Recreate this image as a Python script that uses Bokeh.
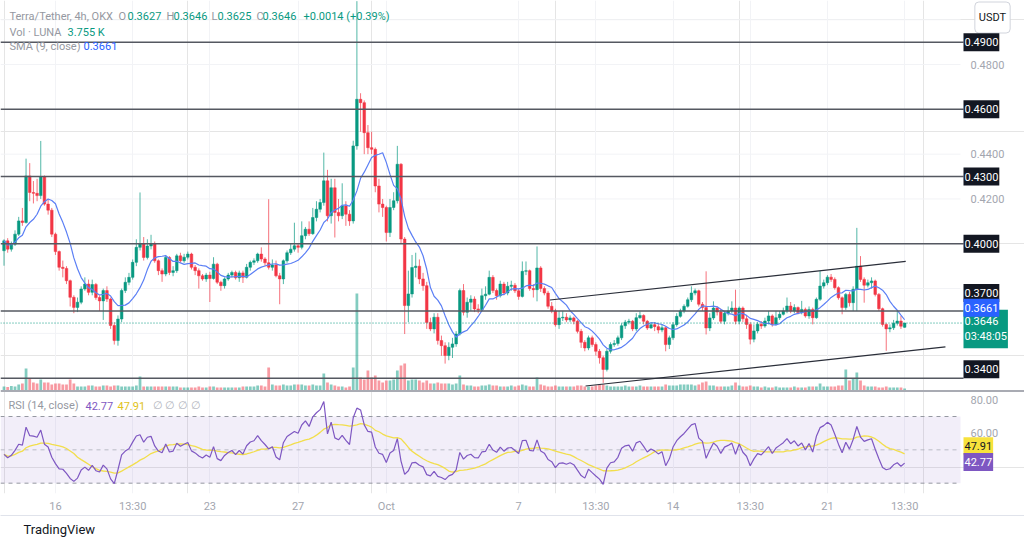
import numpy as np
import pandas as pd
from bokeh.plotting import figure
from bokeh.models import (Range1d, LinearAxis, FixedTicker, Span, Label, BoxAnnotation,
                          Grid, ColumnDataSource, Title)
from bokeh.embed import file_html
from bokeh.resources import INLINE

# ---------------- data (LUNA/USDT 4h) ----------------
opens = [
    0.3969, 0.4013, 0.3976, 0.3998, 0.4043, 0.4102, 0.4095, 0.4303, 0.4229, 0.4225,
    0.4215, 0.4300, 0.4177, 0.4150, 0.4043, 0.3965, 0.3895, 0.3890, 0.3835, 0.3761,
    0.3716, 0.3739, 0.3798, 0.3820, 0.3783, 0.3818, 0.3760, 0.3745, 0.3791, 0.3753,
    0.3635, 0.3568, 0.3664, 0.3791, 0.3828, 0.3850, 0.3917, 0.3984, 0.3999, 0.3939,
    0.3990, 0.4000, 0.3924, 0.3880, 0.3865, 0.3939, 0.3872, 0.3880, 0.3946, 0.3924,
    0.3940, 0.3954, 0.3895, 0.3880, 0.3857, 0.3843, 0.3860, 0.3845, 0.3909, 0.3828,
    0.3813, 0.3843, 0.3860, 0.3872, 0.3848, 0.3870, 0.3850, 0.3895, 0.3917, 0.3924,
    0.3954, 0.3932, 0.3915, 0.3895, 0.3905, 0.3857, 0.3843, 0.3924, 0.3960, 0.3976,
    0.3991, 0.3984, 0.4036, 0.4065, 0.4045, 0.4117, 0.4154, 0.4184, 0.4281, 0.4125,
    0.4250, 0.4140, 0.4125, 0.4169, 0.4132, 0.4102, 0.4437, 0.4645, 0.4630, 0.4496,
    0.4429, 0.4422, 0.4258, 0.4177, 0.4162, 0.4050, 0.4162, 0.4192, 0.4355, 0.4021,
    0.3724, 0.3776, 0.3894, 0.3900, 0.3843, 0.3813, 0.3649, 0.3620, 0.3672, 0.3568,
    0.3545, 0.3501, 0.3538, 0.3553, 0.3597, 0.3791, 0.3694, 0.3739, 0.3753, 0.3709,
    0.3705, 0.3768, 0.3775, 0.3850, 0.3791, 0.3768, 0.3820, 0.3780, 0.3810, 0.3815,
    0.3790, 0.3765, 0.3877, 0.3880, 0.3800, 0.3795, 0.3892, 0.3800, 0.3780, 0.3721,
    0.3700, 0.3639, 0.3669, 0.3672, 0.3660, 0.3669, 0.3654, 0.3609, 0.3560, 0.3535,
    0.3580, 0.3550, 0.3520, 0.3491, 0.3439, 0.3520, 0.3550, 0.3555, 0.3580, 0.3634,
    0.3650, 0.3654, 0.3620, 0.3670, 0.3680, 0.3654, 0.3624, 0.3639, 0.3630, 0.3615,
    0.3625, 0.3550, 0.3580, 0.3639, 0.3676, 0.3700, 0.3721, 0.3750, 0.3780, 0.3790,
    0.3730, 0.3715, 0.3624, 0.3669, 0.3713, 0.3695, 0.3654, 0.3690, 0.3700, 0.3713,
    0.3654, 0.3713, 0.3665, 0.3640, 0.3574, 0.3611, 0.3641, 0.3633, 0.3655, 0.3678,
    0.3641, 0.3670, 0.3685, 0.3700, 0.3722, 0.3700, 0.3715, 0.3693, 0.3707, 0.3678,
    0.3707, 0.3670, 0.3752, 0.3811, 0.3826, 0.3851, 0.3841, 0.3804, 0.3759, 0.3715,
    0.3774, 0.3737, 0.3797, 0.3900, 0.3841, 0.3815, 0.3826, 0.3834, 0.3774, 0.3710,
    0.3640, 0.3620, 0.3625, 0.3645, 0.3655, 0.3627,
]
highs = [
    0.4020, 0.4025, 0.4010, 0.4060, 0.4120, 0.4160, 0.4380, 0.4360, 0.4280, 0.4290,
    0.4459, 0.4305, 0.4200, 0.4160, 0.4050, 0.3970, 0.3925, 0.3900, 0.3840, 0.3770,
    0.3760, 0.3810, 0.3850, 0.3840, 0.3840, 0.3825, 0.3770, 0.3800, 0.3810, 0.3760,
    0.3650, 0.3680, 0.3800, 0.3850, 0.3870, 0.3930, 0.4020, 0.4229, 0.4030, 0.4020,
    0.4040, 0.4010, 0.3930, 0.3890, 0.3950, 0.3945, 0.3900, 0.3955, 0.3960, 0.3955,
    0.3965, 0.3960, 0.3905, 0.3890, 0.3865, 0.3870, 0.3875, 0.3940, 0.3915, 0.3835,
    0.3850, 0.3870, 0.3880, 0.3880, 0.3880, 0.3880, 0.3910, 0.3925, 0.3935, 0.3960,
    0.3984, 0.3940, 0.4199, 0.3930, 0.3925, 0.3870, 0.3930, 0.3970, 0.4000, 0.4094,
    0.4000, 0.4100, 0.4075, 0.4100, 0.4160, 0.4190, 0.4200, 0.4407, 0.4330, 0.4290,
    0.4290, 0.4200, 0.4270, 0.4190, 0.4150, 0.4460, 0.5083, 0.4672, 0.4640, 0.4530,
    0.4500, 0.4430, 0.4290, 0.4200, 0.4170, 0.4200, 0.4230, 0.4437, 0.4360, 0.4030,
    0.3880, 0.3950, 0.3960, 0.3930, 0.3870, 0.3830, 0.3670, 0.3690, 0.3690, 0.3590,
    0.3560, 0.3560, 0.3580, 0.3610, 0.3800, 0.3820, 0.3760, 0.3770, 0.3765, 0.3730,
    0.3800, 0.3810, 0.3880, 0.3860, 0.3800, 0.3835, 0.3830, 0.3830, 0.3835, 0.3825,
    0.3800, 0.3921, 0.3921, 0.3885, 0.3820, 0.3988, 0.3900, 0.3810, 0.3790, 0.3740,
    0.3710, 0.3700, 0.3700, 0.3690, 0.3680, 0.3675, 0.3660, 0.3620, 0.3570, 0.3590,
    0.3590, 0.3560, 0.3530, 0.3500, 0.3530, 0.3560, 0.3570, 0.3590, 0.3645, 0.3660,
    0.3665, 0.3660, 0.3690, 0.3698, 0.3685, 0.3660, 0.3650, 0.3650, 0.3645, 0.3640,
    0.3630, 0.3590, 0.3650, 0.3690, 0.3710, 0.3730, 0.3760, 0.3810, 0.3800, 0.3795,
    0.3740, 0.3877, 0.3690, 0.3743, 0.3720, 0.3710, 0.3700, 0.3720, 0.3743, 0.3795,
    0.3720, 0.3720, 0.3680, 0.3650, 0.3640, 0.3650, 0.3655, 0.3670, 0.3700, 0.3685,
    0.3700, 0.3700, 0.3715, 0.3760, 0.3740, 0.3730, 0.3720, 0.3745, 0.3715, 0.3720,
    0.3715, 0.3760, 0.3878, 0.3840, 0.3860, 0.3865, 0.3850, 0.3810, 0.3765, 0.3780,
    0.3785, 0.3810, 0.4071, 0.3945, 0.3850, 0.3840, 0.3850, 0.3840, 0.3780, 0.3715,
    0.3645, 0.3640, 0.3660, 0.3700, 0.3678, 0.3646,
]
lows = [
    0.3902, 0.3960, 0.3965, 0.3990, 0.4035, 0.4080, 0.4090, 0.4190, 0.4180, 0.4190,
    0.4200, 0.4170, 0.4130, 0.4030, 0.3950, 0.3880, 0.3850, 0.3820, 0.3720, 0.3690,
    0.3695, 0.3730, 0.3790, 0.3770, 0.3770, 0.3750, 0.3700, 0.3660, 0.3740, 0.3620,
    0.3550, 0.3545, 0.3650, 0.3780, 0.3815, 0.3840, 0.3900, 0.3970, 0.3925, 0.3930,
    0.3975, 0.3915, 0.3860, 0.3830, 0.3855, 0.3860, 0.3855, 0.3870, 0.3915, 0.3915,
    0.3930, 0.3885, 0.3860, 0.3800, 0.3835, 0.3830, 0.3740, 0.3840, 0.3820, 0.3790,
    0.3800, 0.3835, 0.3850, 0.3840, 0.3830, 0.3825, 0.3845, 0.3880, 0.3905, 0.3915,
    0.3920, 0.3900, 0.3885, 0.3880, 0.3850, 0.3730, 0.3820, 0.3915, 0.3950, 0.3965,
    0.3960, 0.3975, 0.4020, 0.4035, 0.4040, 0.4100, 0.4140, 0.4170, 0.4100, 0.4090,
    0.4028, 0.4100, 0.4110, 0.4080, 0.4080, 0.4090, 0.4420, 0.4500, 0.4400, 0.4400,
    0.4400, 0.4230, 0.4140, 0.4120, 0.4010, 0.4030, 0.4150, 0.4180, 0.4000, 0.3597,
    0.3650, 0.3760, 0.3850, 0.3820, 0.3790, 0.3620, 0.3610, 0.3600, 0.3550, 0.3500,
    0.3465, 0.3480, 0.3490, 0.3540, 0.3590, 0.3680, 0.3670, 0.3700, 0.3695, 0.3690,
    0.3700, 0.3750, 0.3770, 0.3780, 0.3750, 0.3760, 0.3770, 0.3770, 0.3790, 0.3780,
    0.3750, 0.3760, 0.3860, 0.3790, 0.3760, 0.3743, 0.3785, 0.3770, 0.3710, 0.3690,
    0.3630, 0.3620, 0.3655, 0.3650, 0.3650, 0.3640, 0.3600, 0.3535, 0.3520, 0.3525,
    0.3540, 0.3500, 0.3465, 0.3379, 0.3430, 0.3510, 0.3540, 0.3545, 0.3570, 0.3620,
    0.3640, 0.3610, 0.3610, 0.3665, 0.3640, 0.3615, 0.3620, 0.3610, 0.3600, 0.3605,
    0.3520, 0.3530, 0.3570, 0.3630, 0.3670, 0.3690, 0.3715, 0.3740, 0.3770, 0.3720,
    0.3700, 0.3595, 0.3610, 0.3660, 0.3680, 0.3645, 0.3640, 0.3680, 0.3690, 0.3640,
    0.3640, 0.3650, 0.3620, 0.3551, 0.3560, 0.3600, 0.3620, 0.3625, 0.3640, 0.3630,
    0.3635, 0.3660, 0.3680, 0.3690, 0.3690, 0.3690, 0.3685, 0.3685, 0.3670, 0.3665,
    0.3640, 0.3665, 0.3745, 0.3800, 0.3815, 0.3830, 0.3795, 0.3750, 0.3685, 0.3705,
    0.3720, 0.3700, 0.3700, 0.3830, 0.3737, 0.3805, 0.3800, 0.3765, 0.3700, 0.3630,
    0.3522, 0.3605, 0.3615, 0.3635, 0.3620, 0.3625,
]
closes = [
    0.4013, 0.3976, 0.3998, 0.4043, 0.4102, 0.4095, 0.4303, 0.4229, 0.4225, 0.4215,
    0.4300, 0.4177, 0.4150, 0.4043, 0.3965, 0.3895, 0.3890, 0.3835, 0.3761, 0.3716,
    0.3739, 0.3798, 0.3820, 0.3783, 0.3818, 0.3760, 0.3745, 0.3791, 0.3753, 0.3635,
    0.3568, 0.3664, 0.3791, 0.3828, 0.3850, 0.3917, 0.3984, 0.3999, 0.3939, 0.3990,
    0.4000, 0.3924, 0.3880, 0.3865, 0.3939, 0.3872, 0.3880, 0.3946, 0.3924, 0.3940,
    0.3954, 0.3895, 0.3880, 0.3857, 0.3843, 0.3860, 0.3845, 0.3909, 0.3828, 0.3813,
    0.3843, 0.3860, 0.3872, 0.3848, 0.3870, 0.3850, 0.3895, 0.3917, 0.3924, 0.3954,
    0.3932, 0.3915, 0.3895, 0.3905, 0.3857, 0.3843, 0.3924, 0.3960, 0.3976, 0.3991,
    0.3984, 0.4036, 0.4065, 0.4045, 0.4117, 0.4154, 0.4184, 0.4281, 0.4125, 0.4250,
    0.4140, 0.4125, 0.4169, 0.4132, 0.4102, 0.4437, 0.4645, 0.4630, 0.4496, 0.4429,
    0.4422, 0.4258, 0.4177, 0.4162, 0.4050, 0.4162, 0.4192, 0.4355, 0.4021, 0.3724,
    0.3776, 0.3894, 0.3900, 0.3843, 0.3813, 0.3649, 0.3620, 0.3672, 0.3568, 0.3545,
    0.3501, 0.3538, 0.3553, 0.3597, 0.3791, 0.3694, 0.3739, 0.3753, 0.3709, 0.3705,
    0.3768, 0.3775, 0.3850, 0.3791, 0.3768, 0.3820, 0.3780, 0.3810, 0.3815, 0.3790,
    0.3765, 0.3877, 0.3880, 0.3800, 0.3795, 0.3892, 0.3800, 0.3780, 0.3721, 0.3700,
    0.3639, 0.3669, 0.3672, 0.3660, 0.3669, 0.3654, 0.3609, 0.3560, 0.3535, 0.3580,
    0.3550, 0.3520, 0.3491, 0.3439, 0.3520, 0.3550, 0.3555, 0.3580, 0.3634, 0.3650,
    0.3654, 0.3620, 0.3670, 0.3680, 0.3654, 0.3624, 0.3639, 0.3630, 0.3615, 0.3625,
    0.3550, 0.3580, 0.3639, 0.3676, 0.3700, 0.3721, 0.3750, 0.3780, 0.3790, 0.3730,
    0.3715, 0.3624, 0.3669, 0.3713, 0.3695, 0.3654, 0.3690, 0.3700, 0.3713, 0.3654,
    0.3713, 0.3665, 0.3640, 0.3574, 0.3611, 0.3641, 0.3633, 0.3655, 0.3678, 0.3641,
    0.3670, 0.3685, 0.3700, 0.3722, 0.3700, 0.3715, 0.3693, 0.3707, 0.3678, 0.3707,
    0.3670, 0.3752, 0.3811, 0.3826, 0.3851, 0.3841, 0.3804, 0.3759, 0.3715, 0.3774,
    0.3737, 0.3797, 0.3900, 0.3841, 0.3815, 0.3826, 0.3834, 0.3774, 0.3710, 0.3640,
    0.3620, 0.3625, 0.3645, 0.3655, 0.3632, 0.3646,
]
# volume in thousands of LUNA
volumes = [
    8, 7, 9, 8, 12, 14, 44, 24, 16, 14,
    22, 16, 16, 12, 14, 14, 12, 12, 22, 14,
    8, 8, 8, 10, 10, 8, 8, 10, 10, 8,
    10, 10, 8, 8, 8, 8, 10, 28, 8, 8,
    8, 8, 8, 8, 8, 8, 8, 8, 6, 6,
    6, 6, 6, 8, 6, 6, 8, 8, 6, 6,
    6, 6, 6, 6, 6, 8, 8, 8, 8, 10,
    10, 8, 46, 12, 10, 10, 12, 10, 10, 12,
    12, 12, 10, 10, 12, 10, 10, 34, 16, 12,
    10, 8, 8, 6, 8, 46, 194, 26, 22, 40,
    26, 30, 20, 16, 20, 20, 22, 40, 50, 54,
    20, 22, 22, 20, 16, 20, 14, 14, 16, 14,
    14, 14, 12, 14, 30, 12, 10, 10, 8, 8,
    10, 10, 12, 10, 10, 8, 8, 8, 10, 8,
    10, 12, 10, 8, 8, 26, 12, 10, 8, 8,
    10, 8, 8, 8, 8, 8, 10, 10, 8, 8,
    8, 10, 12, 12, 10, 8, 8, 8, 8, 10,
    8, 8, 8, 10, 8, 8, 8, 8, 8, 8,
    12, 10, 10, 10, 12, 12, 12, 12, 10, 12,
    16, 18, 10, 10, 8, 8, 8, 8, 10, 16,
    10, 8, 8, 10, 8, 8, 6, 8, 6, 6,
    8, 6, 6, 6, 6, 8, 6, 6, 6, 8,
    8, 8, 14, 8, 8, 8, 8, 10, 10, 42,
    20, 24, 36, 20, 10, 8, 8, 8, 6, 6,
    8, 6, 6, 6, 6, 3.755,
]

tick_pos = [14, 35, 56, 80, 104, 140, 161, 182, 203, 224, 245]
tick_text = ["16", "13:30", "23", "27", "Oct", "7", "13:30", "14", "13:30", "21", "13:30"]
price_ticks = [0.42, 0.44, 0.48]
grid_prices = [0.36, 0.38, 0.40, 0.42, 0.44, 0.46, 0.48, 0.50]
rsi_ticks = [80, 60]
levels = [0.49, 0.46, 0.43, 0.40, 0.37, 0.34]
upper_trend_x = [148.5, 245.3]
upper_trend_y = [0.3749, 0.3921]
lower_trend_x = [158.2, 256.1]
lower_trend_y = [0.3365, 0.3540]
rsi_last = 42.77
rsi_ma_last = 47.91
countdown = "03:48:05"

# ---------------- derived series ----------------
o = np.array(opens); h = np.array(highs); l = np.array(lows); c = np.array(closes)
v = np.array(volumes, dtype=float)
n = len(c)
idx = np.arange(n)
UP, DN = "#089981", "#f23645"
up = c >= o

sma = pd.Series(c).rolling(9, min_periods=1).mean().to_numpy()
d = np.diff(c)
gains = np.clip(d, 0, None)
losses = np.clip(-d, 0, None)
ag = gains[:14].mean()
al = losses[:14].mean()
rsi = [100 - 100 / (1 + ag / al)]
for g, ls in zip(gains, losses):
    ag = (ag * 13 + g) / 14
    al = (al * 13 + ls) / 14
    rsi.append(100 - 100 / (1 + ag / al))
rsi = np.array(rsi)
rsi_ma = pd.Series(rsi).rolling(14, min_periods=1).mean().to_numpy()

src = ColumnDataSource(dict(
    x=idx, o=o, h=h, l=l, c=c,
    top=np.maximum(o, c), bottom=np.minimum(o, c),
    vol=v, candle_color=np.where(up, UP, DN),
    sma=sma, rsi=rsi, rsi_ma=rsi_ma,
))

# ---------------- geometry (pixels of the 1024x542 page) ----------------
W, H = 1024, 542
FH = 493            # chart panes height (price+volume above, RSI below)
PANE_W = 960        # width of the plotting panes; price scale to its right
BAR_PX = 3.676
FIRST_PX = 3.5
x_lo = -FIRST_PX / BAR_PX
x_hi = x_lo + W / BAR_PX
P_PX = 2240.0
p_hi = 0.5086
p_lo = p_hi - FH / P_PX
R_PX = 1.667
r_hi = 70 + 416 / R_PX
r_lo = r_hi - FH / R_PX
V_PX = 0.5
v_hi = 390 / V_PX
v_lo = v_hi - FH / V_PX


def X(px):
    return x_lo + px / BAR_PX


def Y(py):
    return p_hi - py / P_PX


def R(py):
    return r_hi - py / R_PX


FONT = "Roboto"

p = figure(width=W, height=H, x_range=Range1d(x_lo, x_hi), y_range=Range1d(p_lo, p_hi),
           output_backend="svg", toolbar_location=None, tools="",
           x_axis_location=None, y_axis_location=None,
           min_border_left=0, min_border_right=0, min_border_top=0,
           min_border_bottom=H - FH, outline_line_color=None,
           background_fill_color="white", border_fill_color="white")
p.extra_y_ranges = {"vol": Range1d(v_lo, v_hi), "rsi": Range1d(r_lo, r_hi)}

# time axis
xaxis = LinearAxis(ticker=FixedTicker(ticks=tick_pos),
                   major_label_overrides=dict(zip(tick_pos, tick_text)),
                   axis_line_color=None, major_tick_line_color=None, minor_tick_line_color=None,
                   major_tick_out=0, major_tick_in=0,
                   major_label_text_color="#a3a6af", major_label_text_font=FONT,
                   major_label_text_font_size="11px", major_label_standoff=6)
p.add_layout(xaxis, "below")
# thin rule under the time scale
rule = LinearAxis(ticker=FixedTicker(ticks=[]), axis_line_color="#e0e3eb", axis_line_width=1,
                  major_tick_out=0, major_tick_in=0, major_label_text_font_size="0px",
                  major_label_standoff=0)
p.add_layout(rule, "below")
p.add_layout(Title(text="TradingView", align="left", offset=23, standoff=8,
                   text_font=FONT, text_font_size="13px", text_font_style="normal",
                   text_color="#131722"), "below")

p.add_layout(Grid(dimension=0, ticker=FixedTicker(ticks=tick_pos), grid_line_color="#f2f3f6"))
p.segment(x0=[X(0)] * len(grid_prices), y0=grid_prices, x1=[X(PANE_W)] * len(grid_prices),
          y1=grid_prices, line_color="#f2f3f6", line_width=1)

# RSI pane background and guides
p.add_layout(BoxAnnotation(bottom=30, top=70, right=X(PANE_W), y_range_name="rsi",
                           fill_color="#7e57c2", fill_alpha=0.1, line_color=None, level="underlay"))
for lvl, alpha in ((70, 1.0), (50, 0.6), (30, 1.0)):
    p.segment(x0=[X(0)], y0=[lvl], x1=[X(PANE_W)], y1=[lvl], y_range_name="rsi",
              line_color="#9598a1", line_dash="4 4", line_width=1, line_alpha=alpha)

# volume
p.vbar(x="x", top="vol", bottom=0, width=0.75, source=src, fill_color="candle_color",
       fill_alpha=0.5, line_color=None, y_range_name="vol")

# pane separator
p.add_layout(Span(location=Y(390.5), dimension="width", line_color="#a9abb3", line_width=2))

# candles
p.segment(x0="x", y0="l", x1="x", y1="h", source=src, line_color="candle_color", line_width=1,
          line_alpha=0.7)
p.vbar(x="x", top="top", bottom="bottom", width=0.72, source=src, fill_color="candle_color",
       line_color="candle_color", line_width=0.5)

# SMA
p.line(x="x", y="sma", source=src, line_color="#5b7ff5", line_width=1.2)

# drawings
p.segment(x0=[X(0)] * len(levels), y0=levels, x1=[X(963)] * len(levels), y1=levels,
          line_color="#555861", line_width=1.5)
p.line(upper_trend_x, upper_trend_y, line_color="#2a2e39", line_width=1.2)
p.line(lower_trend_x, lower_trend_y, line_color="#2a2e39", line_width=1.2)

# current price
p.segment(x0=[X(0)], y0=[closes[-1]], x1=[X(963)], y1=[closes[-1]], line_color=UP,
          line_dash="1 2", line_width=1)

# RSI
p.line(x="x", y="rsi_ma", source=src, y_range_name="rsi", line_color="#f2de4b", line_width=1.3)
p.line(x="x", y="rsi", source=src, y_range_name="rsi", line_color="#7e57c2", line_width=1.2)


def label(text, px, y, color, size="11px", style="normal", yr=None, align="left", **kw):
    args = dict(x=X(px), y=y, text=text, text_color=color, text_font=FONT, text_font_size=size,
                text_font_style=style, text_align=align, text_baseline="middle")
    if yr:
        args["y_range_name"] = yr
    args.update(kw)
    p.add_layout(Label(**args))


GRAY = "#9598a1"
# legend
chg = closes[-1] - closes[-2]
pct = chg / closes[-2] * 100
label("Terra/Tether, 4h, OKX", 9, Y(15.7), GRAY)
for txt, px, col in (("O", 118, GRAY), (f"{opens[-1]:.4f}", 127, UP), ("H", 166, GRAY),
                     (f"{highs[-1]:.4f}", 173, UP), ("L", 211, GRAY), (f"{lows[-1]:.4f}", 217, UP),
                     ("C", 256, GRAY), (f"{closes[-1]:.4f}", 262, UP),
                     (f"{chg:+.4f} ({pct:+.2f}%)", 303, UP)):
    label(txt, px, Y(15.7), col)
label("Vol · LUNA", 9, Y(31.7), GRAY)
label(f"{volumes[-1]:.3f} K", 67, Y(31.7), UP)
label("SMA (9, close)", 9, Y(45.7), GRAY)
label(f"{sma[-1]:.4f}", 83, Y(45.7), "#2962ff")

label("RSI (14, close)", 8, R(405), GRAY, yr="rsi")
label(f"{rsi_last:.2f}", 85, R(405), "#7e57c2", yr="rsi")
label(f"{rsi_ma_last:.2f}", 117, R(405), "#e0c21a", yr="rsi")
label("∅  ∅  ∅  ∅", 152, R(405), "#b2b5be", yr="rsi")

# price scale (right)
for t in price_ticks:
    label(f"{t:.4f}", 970, t, "#a3a6af")
label("USDT", 992, Y(17), "#131722", align="center", background_fill_color="white",
      border_line_color="#d1d4dc", border_radius=4, padding=(4, 9))

tag_shift = {0.37: 18, 0.34: 9}
for lvl in levels:
    label(f"{lvl:.4f}", 963, lvl, "white", background_fill_color="#131722",
          padding=(1, 5), y_offset=tag_shift.get(lvl, 0))
label(f"{closes[-1]:.4f}\n{countdown}", 963, closes[-1], "white", background_fill_color=UP,
      padding=(1, 5), y_offset=-6)
label(f"{sma[-1]:.4f}", 963, sma[-1], "white", background_fill_color="#2962ff", padding=(1, 5),
      y_offset=12)

# RSI scale
for val in rsi_ticks:
    label(f"{val:.2f}", 970, val, "#a3a6af", yr="rsi")
label(f"{rsi_ma_last:.2f}", 963, rsi_ma_last, "#131722", yr="rsi", background_fill_color="#f7e23c",
      padding=(1, 5), y_offset=7)
label(f"{rsi_last:.2f}", 963, rsi_last, "white", yr="rsi", background_fill_color="#7e57c2",
      padding=(1, 5))

open("out.html", "w").write(file_html(p, INLINE))
